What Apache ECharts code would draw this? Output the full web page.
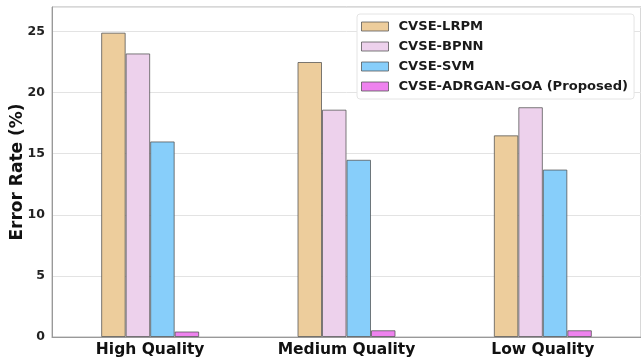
<!DOCTYPE html>
<html><head><meta charset="utf-8">
<script src="https://cdn.jsdelivr.net/npm/echarts@6/dist/echarts.min.js"></script>
<style>html,body{margin:0;padding:0;background:#fff}#c{width:641px;height:362px}</style>
</head><body><div id="c"></div>
<script>
const categories = ['High Quality', 'Medium Quality', 'Low Quality'];
const seriesNames = ['CVSE-LRPM', 'CVSE-BPNN', 'CVSE-SVM', 'CVSE-ADRGAN-GOA (Proposed)'];
const lrpm = [24.9, 22.5, 16.5];
const bpnn = [23.2, 18.6, 18.8];
const svm = [16.0, 14.5, 13.7];
const goa = [0.45, 0.55, 0.55];
const yTicks = [0, 5, 10, 15, 20, 25];
const colors = ['#EDCD9C', '#EDD1EC', '#87CEFA', '#EE82EE'];

const values = [lrpm, bpnn, svm, goa];
const chart = echarts.init(document.getElementById('c'));
const font = 'DejaVu Sans';
chart.setOption({
  animation: false,
  grid: {left: 52, right: 0, top: 7, bottom: 25, show: true, borderColor: '#b0b0b0', borderWidth: 1,
    backgroundColor: 'transparent', containLabel: false, outerBoundsMode: 'none'},
  legend: {
    orient: 'vertical', left: 357, top: 14,
    icon: 'rect',
    itemWidth: 27, itemHeight: 9, itemGap: 7,
    padding: [6, 6, 6, 4],
    backgroundColor: '#fff', borderColor: '#e4e4e4', borderWidth: 1, borderRadius: 3,
    itemStyle: {borderColor: 'rgba(80,80,80,0.75)', borderWidth: 1},
    textStyle: {fontFamily: font, fontWeight: 'bold', fontSize: 13.1, color: '#1a1a1a', lineHeight: 13, padding: [0, 0, 0, 5]},
    data: seriesNames
  },
  xAxis: {
    type: 'category', data: categories,
    axisLine: {lineStyle: {color: '#999', width: 1}},
    axisTick: {show: false},
    axisLabel: {fontFamily: font, fontWeight: 'bold', fontSize: 15.5, color: '#111', margin: 5}
  },
  yAxis: {
    type: 'value', min: 0, max: 27, interval: 5,
    name: 'Error Rate (%)', nameLocation: 'middle', nameGap: 26, nameMoveOverlap: false,
    nameTextStyle: {fontFamily: font, fontWeight: 'bold', fontSize: 17, color: '#111'},
    axisLine: {show: true, lineStyle: {color: '#999'}},
    axisTick: {show: false},
    splitLine: {lineStyle: {color: '#e3e3e3', width: 1}},
    axisLabel: {fontFamily: font, fontWeight: 'bold', fontSize: 12.5, color: '#222', margin: 7,
      formatter: v => yTicks.includes(v) ? String(v) : ''}
  },
  series: seriesNames.map((n, i) => ({
    name: n, type: 'bar', data: values[i],
    barWidth: 24.5, barGap: '0%',
    itemStyle: {color: colors[i], borderColor: 'rgba(80,80,80,0.75)', borderWidth: 1}
  }))
});
</script></body></html>
